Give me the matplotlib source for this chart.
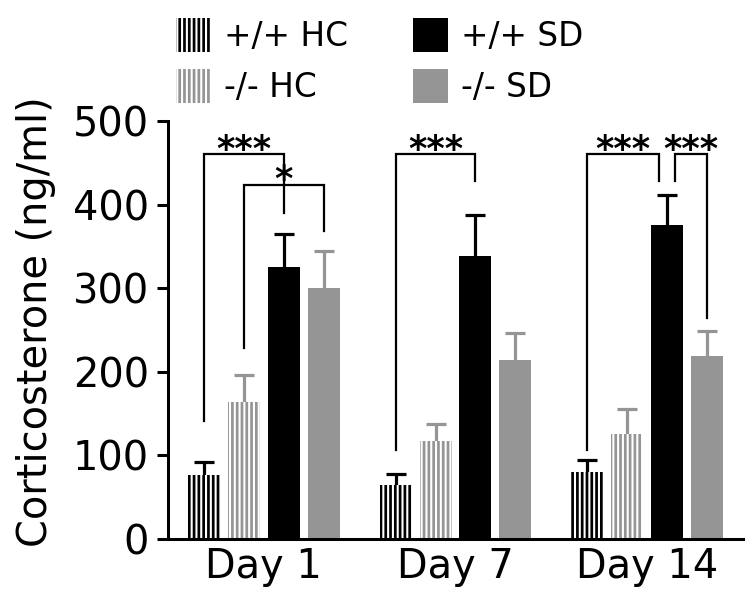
import matplotlib
matplotlib.use("Agg")
import matplotlib.pyplot as plt
import numpy as np

# ---- data ----
days = ["Day 1", "Day 7", "Day 14"]
groups = ["+/+ HC", "-/- HC", "+/+ SD", "-/- SD"]
wt_hc = [77, 64, 80]
ko_hc = [164, 117, 126]
wt_sd = [325, 339, 376]
ko_sd = [300, 214, 219]
wt_hc_err = [15, 14, 15]
ko_hc_err = [32, 21, 30]
wt_sd_err = [40, 49, 35]
ko_sd_err = [44, 32, 30]
yticks = [0, 100, 200, 300, 400, 500]

# significance brackets: (day, left bar, right bar, top, left leg end, right leg end, label, left shift, right shift)
brackets = [
    (0, 0, 2, 460, 141, 390, "***", 0.0, 0.0),
    (0, 1, 3, 424, 228, 368, "*", 0.0, 0.0),
    (1, 0, 2, 460, 107, 428, "***", 0.0, 0.0),
    (2, 0, 2, 460, 107, 428, "***", 0.0, -0.2),
    (2, 2, 3, 460, 428, 264, "***", 0.2, 0.0),
]

GRAY = "#959595"
DPI = 115
plt.rcParams["font.family"] = ["DejaVu Sans"]
plt.rcParams["hatch.linewidth"] = 1.7

fig = plt.figure(figsize=(756 / DPI, 605 / DPI), dpi=DPI)
ax = fig.add_axes([168 / 756, 1 - 539 / 605, (743 - 168) / 756, (539 - 121) / 605])

group_gap = 4.8
offsets = np.array([-1.5, -0.5, 0.5, 1.5])
centers = np.arange(len(days)) * group_gap
width = 0.8

series = [wt_hc, ko_hc, wt_sd, ko_sd]
errs = [wt_hc_err, ko_hc_err, wt_sd_err, ko_sd_err]
styles = [
    dict(facecolor="white", edgecolor="black", hatch="||||", linewidth=0),
    dict(facecolor="white", edgecolor=GRAY, hatch="||||", linewidth=0),
    dict(facecolor="black", edgecolor="black", linewidth=0),
    dict(facecolor=GRAY, edgecolor=GRAY, linewidth=0),
]
ecolors = ["black", GRAY, "black", GRAY]

handles = []
for i, (vals, err, st, ec) in enumerate(zip(series, errs, styles, ecolors)):
    x = centers + offsets[i]
    _, caps, _ = ax.errorbar(x, vals, yerr=[np.zeros(len(err)), err], fmt="none",
                             ecolor=ec, elinewidth=2.0, capsize=6.5, capthick=2.0,
                             zorder=1)
    # hide the zero-length lower caps
    if len(caps) == 2:
        caps[0].set_visible(False)
    b = ax.bar(x, vals, width=width, zorder=2, label=groups[i], **st)
    handles.append(b)

for d, l, r, top, lb, rb, lab, ls, rs in brackets:
    xl = centers[d] + offsets[l] + ls
    xr = centers[d] + offsets[r] + rs
    ax.plot([xl, xl, xr, xr], [lb, top, top, rb], color="black", lw=1.4,
            solid_joinstyle="miter", zorder=3)
    ax.annotate(lab, xy=((xl + xr) / 2, top), xytext=(0, -3.5),
                textcoords="offset points", ha="center", va="baseline",
                fontsize=22, fontweight="bold", color="black")

ax.set_xlim(-2.4, 12.0)
ax.set_ylim(0, 500)
ax.set_yticks(yticks)
ax.set_xticks(centers)
ax.set_xticklabels(days)
ax.tick_params(axis="y", labelsize=25, length=7, width=1.9, pad=5, direction="out")
ax.tick_params(axis="x", labelsize=25, length=0, pad=5)
for s in ["top", "right"]:
    ax.spines[s].set_visible(False)
for s in ["left", "bottom"]:
    ax.spines[s].set_linewidth(1.9)

ax.set_ylabel("Corticosterone (ng/ml)", fontsize=25)
ax.yaxis.set_label_coords(-0.195, 0.52)

fig.legend(handles=handles, labels=groups, ncol=2, loc="upper left",
           bbox_to_anchor=(176 / 756, 1 - 18 / 605), frameon=False,
           fontsize=20.5, handlelength=1.06, handleheight=1.2, handletextpad=0.4,
           columnspacing=2.0, labelspacing=0.5, borderpad=0, borderaxespad=0)

fig.savefig("out.png", dpi=DPI)
